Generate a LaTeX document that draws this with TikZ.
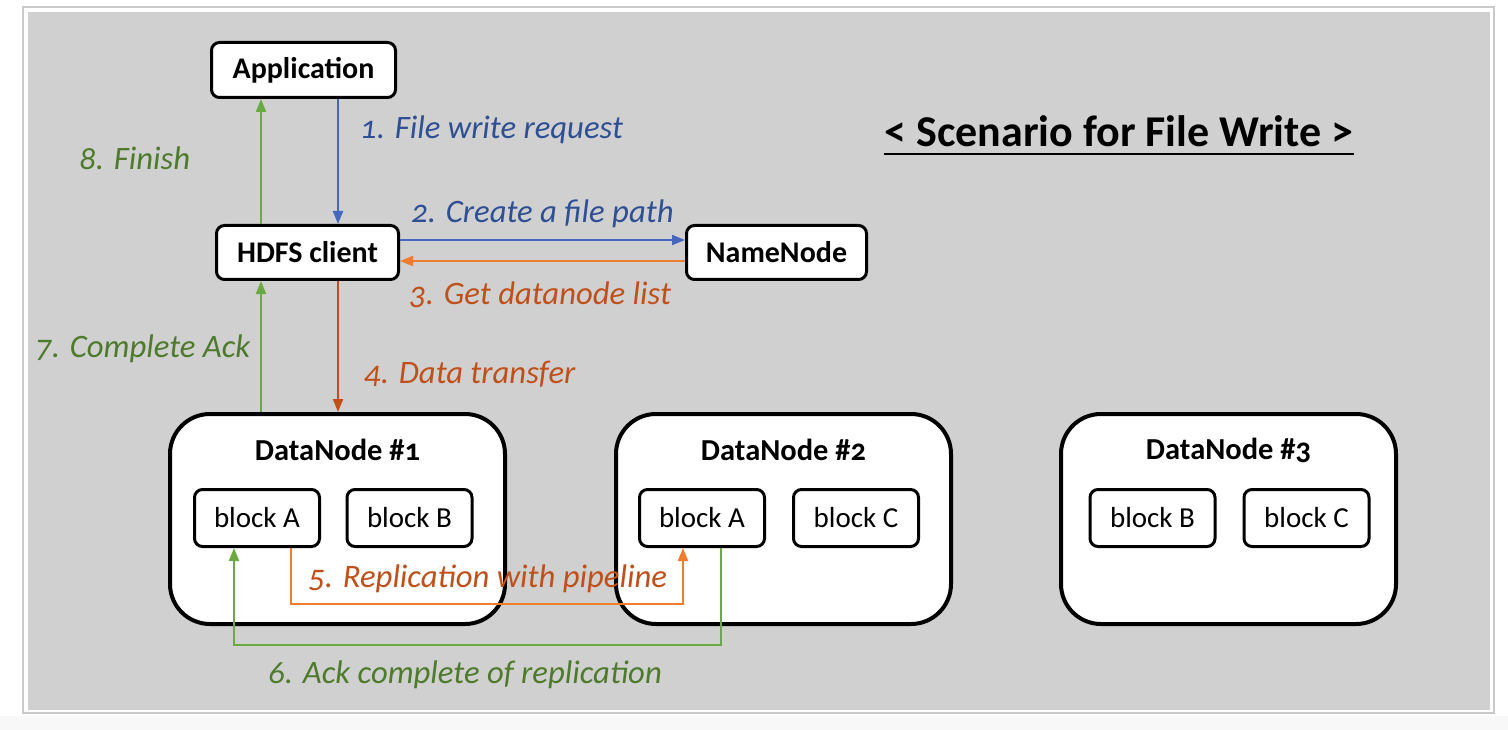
\documentclass[tikz,border=0pt]{standalone}
\usepackage{fontspec}
\setmainfont{Carlito}[Numbers=OldStyle]
\usetikzlibrary{arrows.meta}
\definecolor{bggray}{HTML}{D0D0D0}
\definecolor{framegray}{HTML}{CACACA}
\definecolor{stripgray}{HTML}{F8F8F8}
\definecolor{bluearr}{HTML}{4468BE}
\definecolor{bluetxt}{HTML}{2F4F94}
\definecolor{orarr}{HTML}{ED7D31}
\definecolor{brownarr}{HTML}{C0501A}
\definecolor{oratxt}{HTML}{C0501A}
\definecolor{greenarr}{HTML}{6AAA40}
\definecolor{greentxt}{HTML}{4E7A2C}
\tikzset{
  smallbox/.style={draw=black, fill=white, line width=3pt, rounded corners=8pt, inner sep=0pt,
    font=\fontsize{30}{34}\selectfont\bfseries},
  blockbox/.style={draw=black, fill=white, line width=3pt, rounded corners=8pt, inner sep=0pt,
    minimum width=125pt, minimum height=57pt, font=\fontsize{29}{33}\selectfont},
  dnbox/.style={draw=black, fill=white, line width=4pt, rounded corners=40pt, inner sep=0pt,
    minimum width=335pt, minimum height=210pt},
  dntitle/.style={inner sep=0pt, font=\fontsize{30.5}{34}\selectfont\bfseries},
  lbl/.style={inner sep=0pt, anchor=base west, font=\fontsize{32.7}{37}\selectfont\itshape},
  conn/.style={line width=2pt, -{Triangle[length=13pt,width=10pt]}},
}
\begin{document}
\begin{tikzpicture}[x=1pt,y=-1pt]
\useasboundingbox (0,0) rectangle (1508,730);
\fill[white] (0,0) rectangle (1508,730);
\fill[stripgray] (0,716) rectangle (1508,730);
\draw[framegray, line width=2pt] (23,7) rectangle (1494,713);
\fill[bggray] (28,12) rectangle (1490,710);

% title
\node[inner sep=0pt, anchor=base, font=\fontsize{44}{49}\selectfont\bfseries] (title) at (1119,147) {< Scenario for File Write >};
\draw[line width=2pt] ([yshift=-7pt]title.base west) -- ([yshift=-7pt]title.base east);

% main nodes
\node[smallbox, minimum width=184pt, minimum height=55pt] (app) at (303.5,70) {Application};
\node[smallbox, minimum width=182pt, minimum height=54pt] (hdfs) at (307.5,252.5) {HDFS client};
\node[smallbox, minimum width=180pt, minimum height=54pt] (nn) at (776.5,252.5) {NameNode};

% datanodes
\node[dnbox] (dn1) at (337.5,519) {};
\node[dnbox] (dn2) at (783.5,519) {};
\node[dnbox] (dn3) at (1228.5,519) {};
\node[dntitle] (dn1t) at (337.5,450) {DataNode \#1};
\node[dntitle] (dn2t) at (783.5,450) {DataNode \#2};
\node[dntitle] (dn3t) at (1228.5,450) {DataNode \#3};

\node[blockbox] (dn1a) at (257,518) {block A};
\node[blockbox] (dn1b) at (409.5,518) {block B};
\node[blockbox] (dn2a) at (702,518) {block A};
\node[blockbox] (dn2c) at (856,518) {block C};
\node[blockbox] (dn3b) at (1152.5,518) {block B};
\node[blockbox] (dn3c) at (1306.5,518) {block C};

% helper coordinates
\coordinate (cG) at (261,0);
\coordinate (cB) at (338,0);
\coordinate (r2) at (0,240);
\coordinate (r3) at (0,261);
\coordinate (p5a) at (291,604);
\coordinate (p5b) at (683,604);
\coordinate (p6a) at (721,645);
\coordinate (p6b) at (234,645);

% connectors
\draw[conn, bluearr] (app.south -| cB) -- (hdfs.north -| cB);
\draw[conn, greenarr] (hdfs.north -| cG) -- (app.south -| cG);
\draw[conn, bluearr] (hdfs.east |- r2) -- (nn.west |- r2);
\draw[conn, orarr] (nn.west |- r3) -- (hdfs.east |- r3);
\draw[conn, brownarr] (hdfs.south -| cB) -- (dn1.north -| cB);
\draw[conn, greenarr] (dn1.north -| cG) -- (hdfs.south -| cG);
\draw[conn, orarr] (dn1a.south -| p5a) -- (p5a) -- (p5b) -- (dn2a.south -| p5b);
\draw[conn, greenarr] (dn2a.south -| p6a) -- (p6a) -- (p6b) -- (dn1a.south -| p6b);

% labels
\node[lbl, text=bluetxt] (l1) at (360,139) {1. File write request};
\node[lbl, text=greentxt] (l8) at (79,170) {8. Finish};
\node[lbl, text=bluetxt] (l2) at (411,222.5) {2. Create a file path};
\node[lbl, text=oratxt] (l3) at (409,305) {3. Get datanode list};
\node[lbl, text=greentxt] (l7) at (35,357) {7. Complete Ack};
\node[lbl, text=oratxt] (l4) at (364,383) {4. Data transfer};
\node[lbl, text=oratxt] (l5) at (308,587) {5. Replication with pipeline};
\node[lbl, text=greentxt] (l6) at (268,683) {6. Ack complete of replication};
\end{tikzpicture}
\end{document}
